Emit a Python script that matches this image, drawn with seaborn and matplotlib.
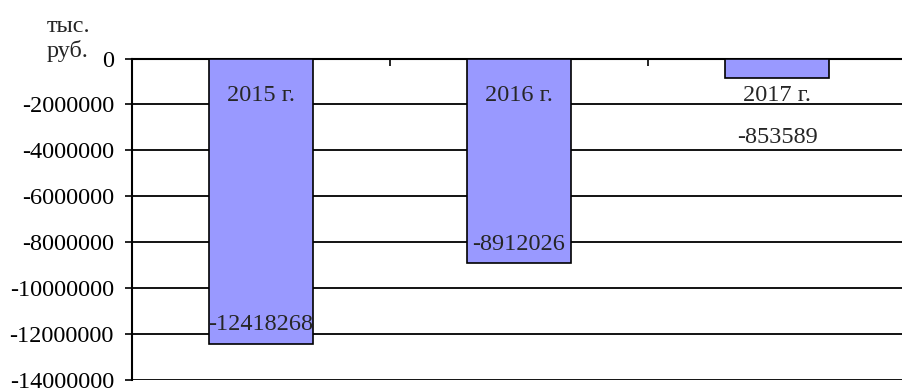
import matplotlib
matplotlib.use("Agg")
import numpy as np
import pandas as pd
import seaborn as sns
from matplotlib import pyplot as plt
from matplotlib.ticker import FuncFormatter, FixedLocator

# данные
years = ["2015 г.", "2016 г.", "2017 г."]
values = [-12418268, -8912026, -853589]
value_labels = ["-12418268", "-8912026", "-853589"]
y_ticks = [0, -2000000, -4000000, -6000000, -8000000, -10000000, -12000000, -14000000]

sns.set_style("white")
plt.rcParams['font.family'] = ['Liberation Serif', 'DejaVu Serif']
plt.rcParams['axes.unicode_minus'] = False

df = pd.DataFrame({"year": years, "value": values})

fig = plt.figure(figsize=(9.02, 3.92), dpi=100)
ax = fig.add_axes([132 / 902, 1 - 380 / 392, 774 / 902, (380 - 58.5) / 392])

sns.barplot(data=df, x="year", y="value", color="#9999FF", saturation=1,
            width=0.4, edgecolor="black", linewidth=1.2, ax=ax, zorder=3)

ax.set_xlim(-0.5, 2.5)
ax.set_ylim(-14000000, 0)
ax.set_yticks(y_ticks)
ax.yaxis.set_major_formatter(FuncFormatter(lambda v, p: f"{int(v)}"))
ax.tick_params(axis="y", direction="out", length=5, width=1.2, pad=8,
               labelsize=17.5, colors="black", left=True)
ax.grid(axis="y", color="black", linewidth=1.3, zorder=1)
ax.set_axisbelow(True)

# метки на оси категорий (ось проходит по нулю, сверху)
ax.set_xticks([])
ax.xaxis.set_minor_locator(FixedLocator([0.5, 1.5]))
ax.tick_params(axis="x", which="minor", top=True, bottom=False, direction="in",
               length=5, width=1.2, colors="black")
ax.set_xlabel("")
ax.set_ylabel("")

for s in ["top", "left"]:
    ax.spines[s].set_color("black")
    ax.spines[s].set_linewidth(1.5)
ax.spines["right"].set_visible(False)
ax.spines["bottom"].set_visible(False)

for i, (name, v, lab) in enumerate(zip(years, values, value_labels)):
    ax.annotate(name, xy=(i, 0), xytext=(0, -37), textcoords="offset pixels",
                ha="center", va="center", fontsize=17.5, zorder=5)
    off = 19 if i < 2 else -59
    ax.annotate(lab, xy=(i, v), xytext=(0, off), textcoords="offset pixels",
                ha="center", va="center", fontsize=17.5, zorder=5)

fig.text(47 / 902, 1 - 62 / 392, "тыс.\nруб.", ha="left", va="bottom",
         fontsize=17.5, linespacing=1.2)

fig.savefig("out.png", dpi=100)
